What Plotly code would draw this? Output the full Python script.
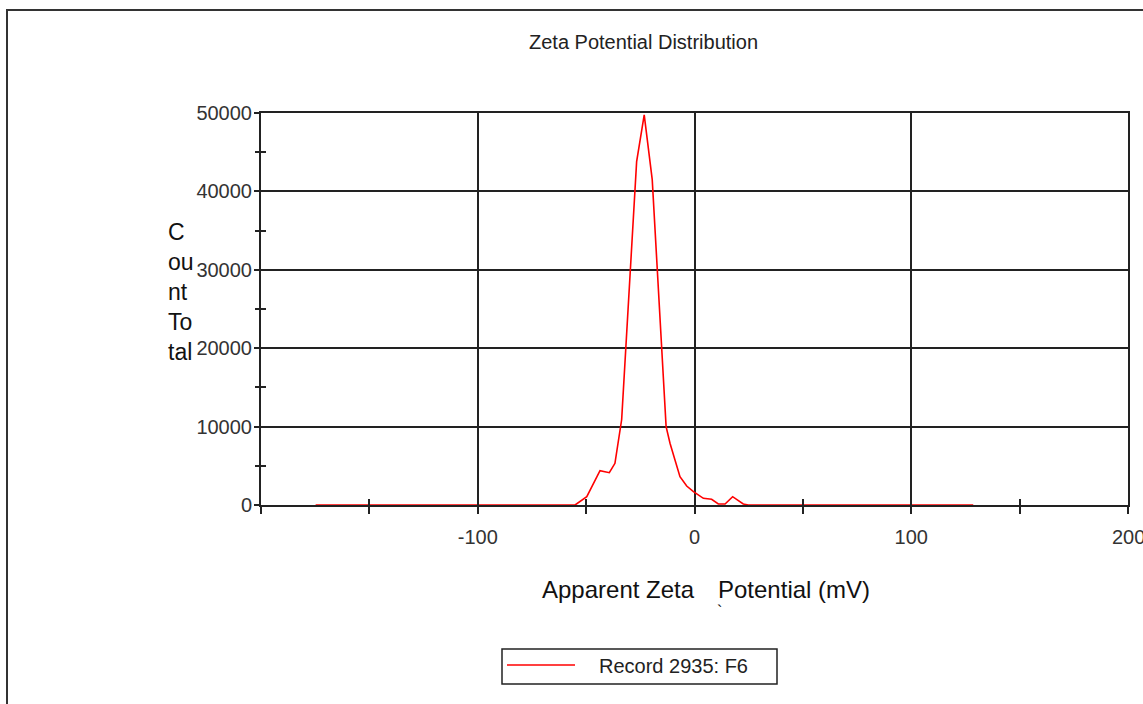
import plotly.graph_objects as go

# Apparent zeta potential (mV) and total counts of the measured distribution
zeta_mv = [-174.8, -55.1, -49.7, -43.6, -39.3, -36.7, -33.6, -26.7, -23.2, -19.5,
           -13.1, -11.3, -9.0, -6.7, -3.6, -0.5, 4.1, 7.9, 11.0, 14.1, 17.6,
           22.5, 24.8, 128.6]
count_total = [0, 0, 1060, 4380, 4120, 5320, 10900, 43800, 49750, 41500,
               10000, 7870, 5740, 3610, 2420, 1700, 850, 730, 130, 130, 1060,
               130, 0, 0]

x_ticks = [-100, 0, 100, 200]
y_ticks = [0, 10000, 20000, 30000, 40000, 50000]
series_name = "Record 2935: F6"

W, H = 1143, 704
L, R, T, B = 261, 15, 113, 199
PW, PH = W - L - R, H - T - B


def px(xp):
    return (xp - L) / PW


def py(yp):
    return (H - B - yp) / PH


FONT = "Liberation Sans, Arial, sans-serif"
AX = "#222222"

fig = go.Figure()
fig.add_trace(go.Scatter(
    x=zeta_mv, y=count_total, mode="lines", name=series_name,
    line=dict(color="#ff0000", width=1.6), showlegend=False,
))

common_x = dict(range=[-200, 200], showline=True, linecolor=AX, linewidth=2,
                mirror=True, zeroline=False)
common_y = dict(range=[0, 50000], showline=True, linecolor=AX, linewidth=2,
                mirror=True, zeroline=False)

# the last x label sits on the right edge of the page and is written
# separately so that it does not push the plot margins inward
x_ticktext = [str(v) if v != x_ticks[-1] else "" for v in x_ticks]

fig.update_layout(
    width=W, height=H,
    margin=dict(l=L, r=R, t=T, b=B, pad=0),
    paper_bgcolor="white", plot_bgcolor="white",
    showlegend=False,
    xaxis=dict(**common_x, tickvals=x_ticks, ticktext=x_ticktext,
               showgrid=True, gridcolor=AX, gridwidth=2,
               ticks="outside", ticklen=7, tickwidth=2, tickcolor=AX,
               minor=dict(dtick=50, tick0=0, ticks="outside", ticklen=7,
                          tickwidth=2, tickcolor=AX, showgrid=False),
               tickfont=dict(family=FONT, size=20, color="#333333"),
               ticklabelstandoff=6),
    yaxis=dict(**common_y, tickvals=y_ticks, ticktext=[str(v) for v in y_ticks],
               showgrid=True, gridcolor=AX, gridwidth=2,
               ticks="outside", ticklen=5, tickwidth=2, tickcolor=AX,
               minor=dict(dtick=5000, tick0=0, ticks="outside", ticklen=4,
                          tickwidth=2, tickcolor=AX, showgrid=False),
               tickfont=dict(family=FONT, size=20, color="#333333"),
               ticklabelstandoff=-2),
    xaxis2=dict(overlaying="x", matches="x", anchor="y", side="bottom",
                showgrid=False, showline=False, zeroline=False,
                showticklabels=False, dtick=50, tick0=0, ticks="inside",
                ticklen=6, tickwidth=2, tickcolor=AX),
    yaxis2=dict(overlaying="y", matches="y", anchor="x", side="left",
                showgrid=False, showline=False, zeroline=False,
                showticklabels=False, dtick=5000, tick0=0, ticks="inside",
                ticklen=5, tickwidth=2, tickcolor=AX),
)

# placeholder so the overlay axes (inner half of the crossing ticks) are built
fig.add_trace(go.Scatter(x=[None], y=[None], xaxis="x2", yaxis="y2",
                         showlegend=False, hoverinfo="skip"))

annotations = [
    dict(text="Zeta Potential Distribution", x=px(643.5), y=py(42),
         xanchor="center", yanchor="middle",
         font=dict(family=FONT, size=20, color="#222222")),
    dict(text=str(x_ticks[-1]), x=x_ticks[-1], xref="x", y=py(537),
         xanchor="center", yanchor="middle",
         font=dict(family=FONT, size=20, color="#333333")),
    dict(text="Apparent Zeta", x=px(697), y=py(589), xanchor="right",
         yanchor="middle", font=dict(family=FONT, size=24, color="#111111")),
    dict(text="Potential (mV)", x=px(716), y=py(589), xanchor="left",
         yanchor="middle", font=dict(family=FONT, size=24, color="#111111")),
    dict(text="`", x=px(719), y=py(611), xanchor="center", yanchor="middle",
         font=dict(family=FONT, size=16, color="#111111")),
    dict(text="C<br>ou<br>nt<br>To<br>tal", x=px(166), y=py(217),
         xanchor="left", yanchor="top", align="left",
         font=dict(family=FONT, size=23, color="#111111")),
    dict(text=series_name, x=px(597), y=py(666), xanchor="left",
         yanchor="middle", font=dict(family=FONT, size=20, color="#222222")),
]
for a in annotations:
    a.setdefault("xref", "paper")
    a.update(yref="paper", showarrow=False)
fig.update_layout(annotations=annotations)

shapes = [
    # outer frame of the report panel
    dict(type="rect", xref="paper", yref="paper", x0=px(7), x1=px(1300),
         y0=py(900), y1=py(10), line=dict(color="#333333", width=2)),
    # legend box and its line sample
    dict(type="rect", xref="paper", yref="paper", x0=px(502), x1=px(777),
         y0=py(684), y1=py(649), line=dict(color="#222222", width=1.5),
         fillcolor="white"),
    dict(type="line", xref="paper", yref="paper", x0=px(507), x1=px(575),
         y0=py(665), y1=py(665), line=dict(color="#ff0000", width=1.6)),
]
fig.update_layout(shapes=shapes)

fig.write_html("out.html")
